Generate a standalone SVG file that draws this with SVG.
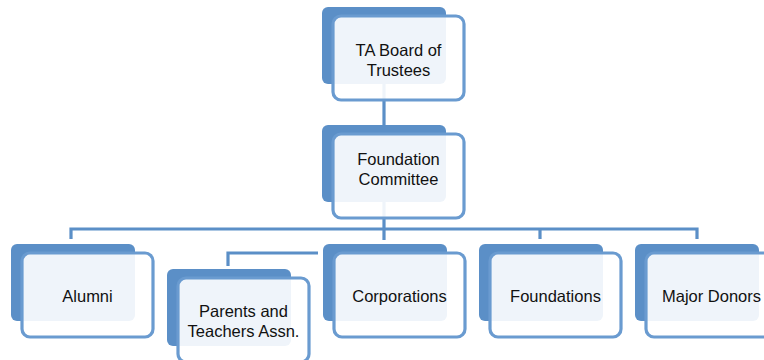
<svg xmlns="http://www.w3.org/2000/svg" width="764" height="360" viewBox="0 0 764 360">
  <style>
    .back { fill: #5B8FC7; }
    .front { fill: #ffffff; fill-opacity: 0.9; stroke: #6A9BD0; stroke-width: 3.2; }
    .wire { fill: none; stroke: #5B8FC7; stroke-width: 3.2; }
    .label { font-family: "Liberation Sans", Arial, sans-serif; font-size: 16.5px; fill: #111111; text-anchor: middle; }
  </style>
  <defs>
    <!-- one card: solid tab behind, outlined panel in front -->
    <g id="card">
      <rect class="back" x="0" y="0" width="124" height="77" rx="6"/>
      <rect class="front" x="11" y="9" width="131" height="84" rx="8"/>
    </g>
  </defs>
  <rect width="764" height="360" fill="#ffffff"/>

  <g id="connectors">
    <path class="wire" d="M384,80 V128"/>
    <path class="wire" d="M384,200 V240"/>
    <path class="wire" d="M71,239 V229 H697 V239"/>
    <path class="wire" d="M540,229 V239"/>
    <path class="wire" d="M318,253 H228 V266"/>
  </g>

  <g id="board">
    <use href="#card" x="322" y="7"/>
    <text class="label" x="398.5" y="56">TA Board of</text>
    <text class="label" x="398.5" y="76">Trustees</text>
  </g>

  <g id="committee">
    <use href="#card" x="322" y="125"/>
    <text class="label" x="398.5" y="165">Foundation</text>
    <text class="label" x="398.5" y="185">Committee</text>
  </g>

  <g id="alumni">
    <use href="#card" x="11" y="244"/>
    <text class="label" x="87.5" y="302">Alumni</text>
  </g>

  <g id="pta">
    <use href="#card" x="167" y="269"/>
    <text class="label" x="243.5" y="317">Parents and</text>
    <text class="label" x="243.5" y="337">Teachers Assn.</text>
  </g>

  <g id="corporations">
    <use href="#card" x="323" y="244"/>
    <text class="label" x="399.5" y="302">Corporations</text>
  </g>

  <g id="foundations">
    <use href="#card" x="479" y="244"/>
    <text class="label" x="555.5" y="302">Foundations</text>
  </g>

  <g id="donors">
    <use href="#card" x="635" y="244"/>
    <text class="label" x="711.5" y="302">Major Donors</text>
  </g>
</svg>
